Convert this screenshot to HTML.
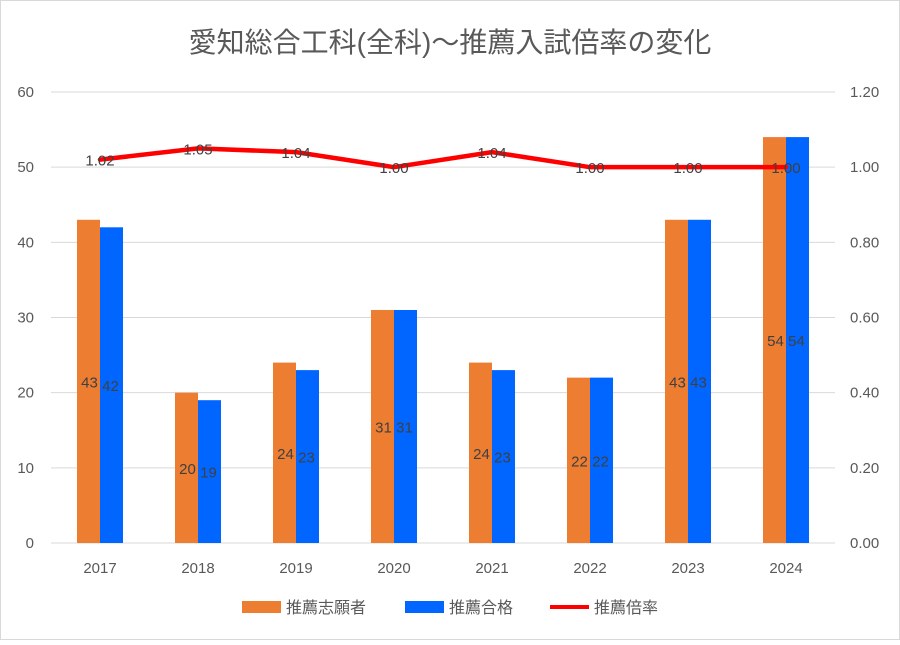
<!DOCTYPE html>
<html><head><meta charset="utf-8"><style>
body{margin:0;background:#fff;}
svg text{font-family:"Liberation Sans","Noto Sans CJK JP",sans-serif;}
</style></head><body>
<svg id="chart" width="900" height="640" xmlns="http://www.w3.org/2000/svg">
<rect x="0.5" y="0.5" width="899" height="639" fill="#fff" stroke="#d9d9d9"/>
<text x="450" y="52" text-anchor="middle" font-size="28" fill="#595959">愛知総合工科(全科)～推薦入試倍率の変化</text>
<g id="grid"></g><g id="bars"></g><g id="line"></g><g id="labels"></g>
<g>
<rect x="242" y="601" width="39" height="12" fill="#ed7d31"/>
<text x="286" y="613" font-size="16" fill="#595959">推薦志願者</text>
<rect x="405" y="601" width="39" height="12" fill="#0066ff"/>
<text x="449" y="613" font-size="16" fill="#595959">推薦合格</text>
<rect x="550" y="605" width="39" height="4" fill="#ff0000"/>
<text x="594" y="613" font-size="16" fill="#595959">推薦倍率</text>
</g>
</svg>
<script>
const categories=["2017","2018","2019","2020","2021","2022","2023","2024"];
const applicants=[43,20,24,31,24,22,43,54];
const passed=[42,19,23,31,23,22,43,54];
const ratio=[1.02,1.05,1.04,1.00,1.04,1.00,1.00,1.00];
const leftTicks=[0,10,20,30,40,50,60];
const rightTicks=["0.00","0.20","0.40","0.60","0.80","1.00","1.20"];
const NS="http://www.w3.org/2000/svg";
const x0=51,x1=835,y0=543,yTop=92;
const band=(x1-x0)/categories.length;
const yL=v=>y0-(v/60)*(y0-yTop);
const yR=v=>y0-(v/1.2)*(y0-yTop);
const cx=i=>x0+band*(i+0.5);
function mk(tag,attrs,parent,txt){const e=document.createElementNS(NS,tag);for(const k in attrs)e.setAttribute(k,attrs[k]);if(txt!==undefined)e.textContent=txt;parent.appendChild(e);return e;}
const grid=document.getElementById('grid');
leftTicks.forEach((t,i)=>{
 const y=yL(t);
 const l=mk('line',{x1:x0,x2:x1,y1:y,y2:y,stroke:'#d9d9d9','stroke-width':1},grid);
 
 
 const a=mk('text',{x:34,y:y+5,'text-anchor':'end','font-size':15,fill:'#595959'},grid,String(t));
 
 
 const b=mk('text',{x:850,y:y+5,'font-size':15,fill:'#595959'},grid,rightTicks[i]);
 
 
});
const bars=document.getElementById('bars'),labels=document.getElementById('labels');
const bw=23;
categories.forEach((c,i)=>{
 const xc=cx(i);
 const r1=mk('rect',{x:xc-bw,y:yL(applicants[i]),width:bw,height:y0-yL(applicants[i]),fill:'#ed7d31'},bars);
 
 
 const r2=mk('rect',{x:xc,y:yL(passed[i]),width:bw,height:y0-yL(passed[i]),fill:'#0066ff'},bars);
 
 
 const t1=mk('text',{x:xc-bw/2+1,y:(y0+yL(applicants[i]))/2+6,'text-anchor':'middle','font-size':15,fill:'#404040'},labels,String(applicants[i]));
 
 
 const t2=mk('text',{x:xc+bw/2-1,y:(y0+yL(passed[i]))/2+6,'text-anchor':'middle','font-size':15,fill:'#404040'},labels,String(passed[i]));
 
 
 const xl=mk('text',{x:xc,y:573,'text-anchor':'middle','font-size':15,fill:'#595959'},labels,c);
 
 
 const rl=mk('text',{x:xc,y:yR(ratio[i])+6,'text-anchor':'middle','font-size':15,fill:'#404040'},labels,ratio[i].toFixed(2));
 
 
});
const pts=ratio.map((v,i)=>cx(i)+','+yR(v)).join(' ');
const pl=mk('polyline',{points:pts,fill:'none',stroke:'#ff0000','stroke-width':4.5,'stroke-linejoin':'round','stroke-linecap':'round'},document.getElementById('line'));


</script>
</body></html>
